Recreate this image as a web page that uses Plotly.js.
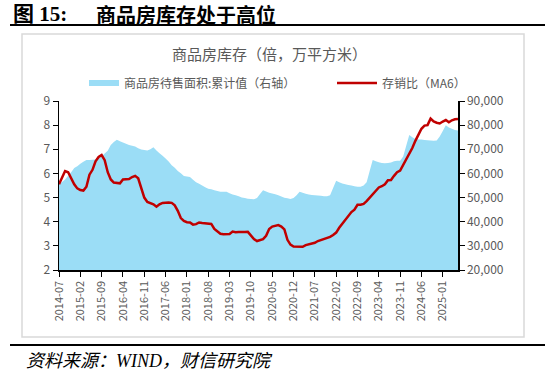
<!DOCTYPE html>
<html><head><meta charset="utf-8">
<script src="https://cdn.plot.ly/plotly-3.0.1.min.js"></script>
<style>html,body{margin:0;padding:0;background:#fff}#c{width:550px;height:376px}</style>
</head><body><div id="c"></div>
<script>
const months = [
"2014-07","2014-08","2014-09","2014-10","2014-11","2014-12",
"2015-01","2015-02","2015-03","2015-04","2015-05","2015-06","2015-07","2015-08","2015-09","2015-10","2015-11","2015-12",
"2016-01","2016-02","2016-03","2016-04","2016-05","2016-06","2016-07","2016-08","2016-09","2016-10","2016-11","2016-12",
"2017-01","2017-02","2017-03","2017-04","2017-05","2017-06","2017-07","2017-08","2017-09","2017-10","2017-11","2017-12",
"2018-01","2018-02","2018-03","2018-04","2018-05","2018-06","2018-07","2018-08","2018-09","2018-10","2018-11","2018-12",
"2019-01","2019-02","2019-03","2019-04","2019-05","2019-06","2019-07","2019-08","2019-09","2019-10","2019-11","2019-12",
"2020-01","2020-02","2020-03","2020-04","2020-05","2020-06","2020-07","2020-08","2020-09","2020-10","2020-11","2020-12",
"2021-01","2021-02","2021-03","2021-04","2021-05","2021-06","2021-07","2021-08","2021-09","2021-10","2021-11","2021-12",
"2022-01","2022-02","2022-03","2022-04","2022-05","2022-06","2022-07","2022-08","2022-09","2022-10","2022-11","2022-12",
"2023-01","2023-02","2023-03","2023-04","2023-05","2023-06","2023-07","2023-08","2023-09","2023-10","2023-11","2023-12",
"2024-01","2024-02","2024-03","2024-04","2024-05","2024-06","2024-07","2024-08","2024-09","2024-10","2024-11","2024-12",
"2025-01","2025-02","2025-03","2025-04","2025-05","2025-06"];

const tickLabels = ["2014-07","2015-02","2015-09","2016-04","2016-11","2017-06","2018-01","2018-08","2019-03","2019-10","2020-05","2020-12","2021-07","2022-02","2022-09","2023-04","2023-11","2024-06","2025-01"];

// 商品房待售面积:累计值 (万平方米, 右轴)
const unsoldArea = [
55500,56500,57500,59000,60500,62200,63000,64000,64800,65600,65600,65700,
65800,66200,67000,68300,69400,71800,73000,74000,73300,72800,72300,71800,
71500,71200,70400,69900,69700,69500,70000,70800,69500,68400,67300,66200,
64900,63400,62400,61000,60100,58900,58700,58500,57400,56300,55700,55000,
54300,53700,53400,53000,52700,52400,52400,52400,51800,51300,51000,50500,
50000,49800,49500,49400,49300,49800,51500,53000,52500,52000,51700,51400,
51000,50400,49900,49700,49400,49800,51000,52400,52000,51600,51300,51100,
51000,50900,50800,50500,50500,51000,54000,57000,56300,55800,55500,55200,
55000,54700,54500,54500,55000,56300,61000,65600,65000,64600,64300,64200,
64300,64500,65000,65200,65300,67000,71500,75900,75000,74300,74100,74100,
73800,73700,73600,73500,73600,75300,77600,80000,79000,78500,78000,77800];

// 存销比 (MA6, 倍, 左轴)
const stockSalesRatio = [
5.55,5.85,6.10,6.05,5.80,5.55,5.38,5.31,5.29,5.45,5.95,6.15,
6.50,6.68,6.76,6.55,6.05,5.75,5.62,5.60,5.59,5.75,5.77,5.77,
5.85,5.90,5.80,5.35,5.00,4.82,4.78,4.72,4.62,4.72,4.78,4.80,
4.80,4.78,4.68,4.45,4.15,4.03,3.98,3.97,3.88,3.90,3.97,3.95,
3.93,3.92,3.91,3.70,3.58,3.50,3.48,3.48,3.49,3.59,3.56,3.57,
3.56,3.57,3.58,3.42,3.28,3.20,3.23,3.28,3.42,3.70,3.80,3.83,
3.86,3.80,3.68,3.25,3.05,2.97,2.96,2.96,2.96,3.03,3.06,3.10,
3.13,3.20,3.24,3.28,3.31,3.37,3.45,3.55,3.75,3.92,4.10,4.25,
4.40,4.50,4.70,4.70,4.74,4.85,5.00,5.15,5.30,5.42,5.47,5.55,
5.72,5.73,5.90,6.05,6.12,6.35,6.56,6.80,7.05,7.35,7.62,7.85,
7.98,8.00,8.27,8.15,8.10,8.07,8.15,8.21,8.12,8.20,8.24,8.25];

const W = 550, H = 376, L = 59, R = 92, T = 101, B = 106;
const PW = W - L - R, PH = H - T - B;
const px = v => (v - L) / PW;
const py = v => (H - B - v) / PH;

const tickFont = {family: "Noto Sans CJK SC, sans-serif", size: 12, color: "#595959"};
const grey = "#595959";

const traces = [
  {x: months, y: unsoldArea, type: "scatter", mode: "none", fill: "tozeroy",
   fillcolor: "#9BDDF6", name: "商品房待售面积:累计值（右轴）", yaxis: "y", legend: "legend"},
  {x: months, y: stockSalesRatio, type: "scatter", mode: "lines",
   line: {color: "#C00000", width: 2.5}, name: "存销比（MA6）", yaxis: "y2", legend: "legend2"}
];

const layout = {
  width: W, height: H,
  margin: {l: L, r: R, t: T, b: B, autoexpand: false},
  paper_bgcolor: "#fff", plot_bgcolor: "rgba(0,0,0,0)",
  showlegend: true,
  font: {family: "Noto Sans CJK SC, sans-serif", color: grey},
  xaxis: {type: "category", range: [0, months.length - 1], tickmode: "array",
    tickvals: tickLabels, ticktext: tickLabels, tickangle: -90,
    tickfont: {family: "Noto Sans CJK SC, sans-serif", size: 11, color: grey},
    showline: true, linecolor: "#000", linewidth: 1.5, ticks: "outside", ticklen: 5,
    tickcolor: "#000", showgrid: false, zeroline: false, automargin: false},
  yaxis: {side: "right", range: [20000, 90000], dtick: 10000, tickformat: ",d",
    tickfont: tickFont, showline: true, linecolor: "#000", linewidth: 1.5,
    ticks: "outside", ticklen: 5, tickcolor: "#000", showgrid: false, zeroline: false,
    automargin: false},
  yaxis2: {overlaying: "y", side: "left", range: [2, 9], dtick: 1,
    tickfont: tickFont, showline: true, linecolor: "#000", linewidth: 1.5,
    ticks: "outside", ticklen: 5, tickcolor: "#000", showgrid: false, zeroline: false,
    automargin: false},
  legend: {orientation: "h", x: px(84), xanchor: "left", y: py(83), yanchor: "middle",
    itemwidth: 30,
    font: {family: "Noto Sans CJK SC, sans-serif", size: 12, color: grey}, bgcolor: "rgba(0,0,0,0)"},
  legend2: {orientation: "h", x: px(332), xanchor: "left", y: py(83), yanchor: "middle",
    itemwidth: 40,
    font: {family: "Noto Sans CJK SC, sans-serif", size: 12, color: grey}, bgcolor: "rgba(0,0,0,0)"},
  shapes: [
    {type: "line", xref: "paper", yref: "paper", x0: px(10), x1: px(545), y0: py(25), y1: py(25),
     line: {color: "#000", width: 2}},
    {type: "rect", xref: "paper", yref: "paper", x0: px(22), x1: px(524), y0: py(34), y1: py(337),
     line: {color: "#D9D9D9", width: 1.5}},
    {type: "line", xref: "paper", yref: "paper", x0: px(10), x1: px(545), y0: py(345), y1: py(345),
     line: {color: "#000", width: 2}}
  ],
  annotations: [
    {xref: "paper", yref: "paper", x: px(11), y: py(14), xanchor: "left", yanchor: "middle",
     showarrow: false, text: "<b>图 15:</b>",
     font: {family: "Liberation Serif, Noto Sans CJK SC, serif", size: 21, color: "#000"}},
    {xref: "paper", yref: "paper", x: px(94), y: py(14), xanchor: "left", yanchor: "middle",
     showarrow: false, text: "<b>商品房库存处于高位</b>",
     font: {family: "Noto Sans CJK SC, sans-serif", size: 20, color: "#000"}},
    {xref: "paper", yref: "paper", x: px(269), y: py(54), xanchor: "center", yanchor: "middle",
     showarrow: false, text: "商品房库存（倍，万平方米）",
     font: {family: "Noto Sans CJK SC, sans-serif", size: 15, color: grey}},
    {xref: "paper", yref: "paper", x: px(24), y: py(361), xanchor: "left", yanchor: "middle",
     showarrow: false, text: "<i>资料来源：WIND，财信研究院</i>",
     font: {family: "Liberation Serif, Noto Sans CJK SC, serif", size: 18, color: "#000"}}
  ]
};

Plotly.newPlot("c", traces, layout, {displayModeBar: false, staticPlot: true});
</script></body></html>
